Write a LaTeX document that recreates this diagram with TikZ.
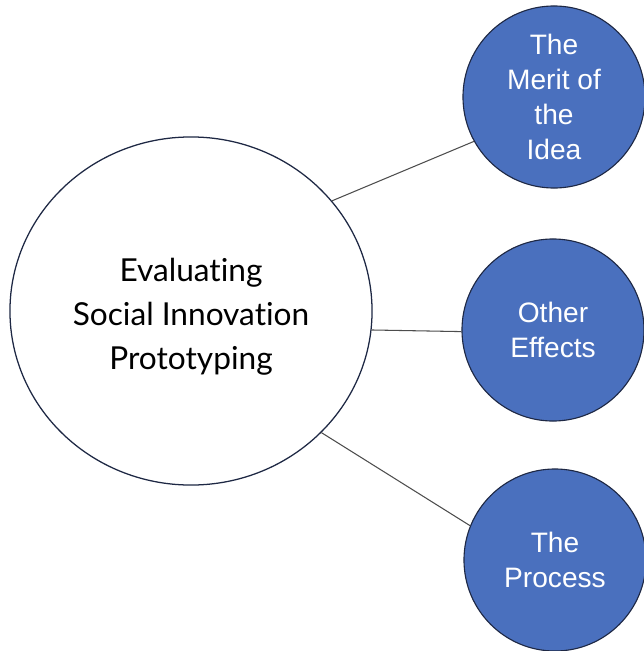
\documentclass[tikz,border=0pt]{standalone}
\usepackage{fontspec}
\setmainfont{Lato}[Ligatures={NoCommon}]
\newfontfamily\arialfont{Liberation Sans}
\usetikzlibrary{shapes.geometric}
\definecolor{ideablue}{HTML}{4A70BE}
\definecolor{rimnavy}{HTML}{1E2844}
\definecolor{linkgray}{HTML}{4D4D4D}
\tikzset{
	main/.style={ellipse, draw=rimnavy, line width=0.9pt, fill=white, inner sep=0pt, minimum width=9.05cm, minimum height=8.7cm, font=\fontsize{22.5}{31.3}\selectfont}, % Nodo central
	part/.style={circle, draw=rimnavy, line width=0.8pt, fill=ideablue, text=white, inner sep=0pt, minimum size=4.55cm, align=center, font=\arialfont\fontsize{20}{25}\selectfont}, % Nodos azules
	link/.style={draw=linkgray, line width=0.75pt} % Lineas de union
}
\begin{document}
\begin{tikzpicture}[x=0.025cm, y=-0.025cm]
	\useasboundingbox (0,0) rectangle (644,651);
	\node[main] (eval) at (191,311) {\raisebox{-0.15cm}[\height][\depth]{\begin{tabular}{@{}c@{}}Evaluating\\Social Innovation\\Prototyping\end{tabular}}};
	\node[part] (merit) at (554,97) {The\\Merit of\\the\\Idea};
	\node[part] (effects) at (553,330) {Other\\Effects};
	\node[part] (process) at (555,560) {The\\Process};
	\draw[link] (eval.38) -- (merit.209)
		(eval.-6) -- (effects.181)
		(eval.-43) -- (process.158);
\end{tikzpicture}
\end{document}
